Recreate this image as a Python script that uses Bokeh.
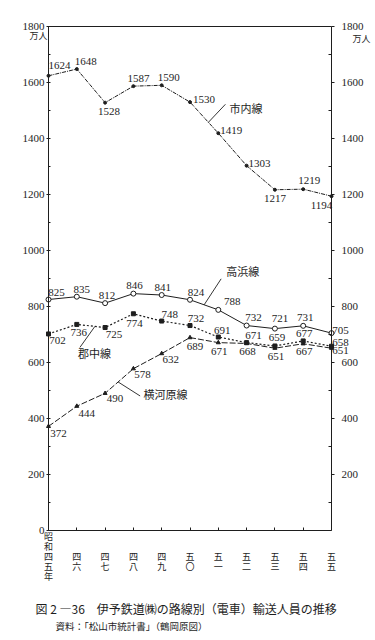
from bokeh.plotting import figure
from bokeh.models import Range1d, LinearAxis, FixedTicker, Label, LabelSet, ColumnDataSource
from bokeh.core.properties import value
from bokeh.embed import file_html
from bokeh.resources import INLINE

# ---------------- data ----------------
years = [45, 46, 47, 48, 49, 50, 51, 52, 53, 54, 55]
x_tick_labels = ["四五", "四六", "四七", "四八", "四九", "五〇", "五一", "五二", "五三", "五四", "五五"]
era_prefix = "昭和"
era_suffix = "年"
series_names = ["市内線", "高浜線", "郡中線", "横河原線"]
shinai = [1624, 1648, 1528, 1587, 1590, 1530, 1419, 1303, 1217, 1219, 1194]
takahama = [825, 835, 812, 846, 841, 824, 788, 732, 721, 731, 705]
gunchu = [702, 736, 725, 774, 748, 732, 691, 671, 659, 677, 658]
yokogawara = [372, 444, 490, 578, 632, 689, 671, 668, 651, 667, 651]
y_ticks = [0, 200, 400, 600, 800, 1000, 1200, 1400, 1600, 1800]
y_minor = [100, 300, 500, 700, 900, 1100, 1300, 1500, 1700]
unit = "万人"
caption = "図 2 ―36　伊予鉄道㈱の路線別（電車）輸送人員の推移"
source_note = "資料：「松山市統計書」（鶴岡原図）"

# ---------------- geometry / style ----------------
W, H = 374, 638
BL, BR, BT, BB = 48, 331, 26, 530          # chart box inside the canvas (px)
X0, X1 = years[0], years[-1]
Y0, Y1 = y_ticks[0], y_ticks[-1]
PX = (BR - BL) / (X1 - X0)
PY = (BB - BT) / (Y1 - Y0)
INK = "#1e1e1e"
NUM_FONT = "Liberation Serif"
CJK_FONT = "Noto Sans CJK JP"

def off(x, y, dx, dy):
    return x + dx / PX, y - dy / PY

p = figure(width=W, height=H,
           x_range=Range1d(X0 - BL / PX, X1 + (W - BR) / PX),
           y_range=Range1d(Y0 - (H - BB) / PY, Y1 + BT / PY),
           output_backend="svg", toolbar_location=None,
           min_border=0)
p.background_fill_color = "white"
p.border_fill_color = "white"
p.outline_line_color = None
p.xgrid.visible = False
p.ygrid.visible = False

# bottom axis
xa = p.xaxis[0]
xa.fixed_location = Y0
xa.bounds = (X0, X1)
xa.ticker = FixedTicker(ticks=years, minor_ticks=[])
xa.major_label_text_color = None
xa.major_tick_in = 3
xa.major_tick_out = 0
xa.axis_line_color = INK
xa.major_tick_line_color = INK

# top border axis (line only)
ta = LinearAxis(fixed_location=Y1, bounds=(X0, X1), ticker=FixedTicker(ticks=[], minor_ticks=[]),
                major_label_text_color=None, axis_line_color=INK, major_tick_line_color=None,
                minor_tick_line_color=None)
p.add_layout(ta, "above")

# left axis
ya = p.yaxis[0]
ya.fixed_location = X0
ya.bounds = (Y0, Y1)
ya.ticker = FixedTicker(ticks=y_ticks, minor_ticks=y_minor)
ya.major_tick_in = 2
ya.major_tick_out = 2
ya.minor_tick_in = 2
ya.minor_tick_out = 0
ya.major_label_standoff = 2
ya.major_label_text_font = NUM_FONT
ya.major_label_text_font_size = "11px"
ya.major_label_text_color = INK
ya.axis_line_color = INK
ya.major_tick_line_color = INK
ya.minor_tick_line_color = INK

# right axis
ra = LinearAxis(fixed_location=X1, bounds=(Y0, Y1),
                ticker=FixedTicker(ticks=y_ticks[1:], minor_ticks=y_minor))
ra.major_tick_in = 0
ra.major_tick_out = 3
ra.minor_tick_in = 3
ra.minor_tick_out = 0
ra.major_label_standoff = 7
ra.major_label_text_font = NUM_FONT
ra.major_label_text_font_size = "11px"
ra.major_label_text_color = INK
ra.axis_line_color = INK
ra.major_tick_line_color = INK
ra.minor_tick_line_color = INK
p.add_layout(ra, "right")

# ---------------- series ----------------
p.line(years, shinai, line_color=INK, line_width=1, line_dash="4 1 1 1")
p.scatter(years, shinai, marker="circle", size=3, fill_color=INK, line_color=INK)

p.line(years, takahama, line_color=INK, line_width=1)
p.scatter(years, takahama, marker="circle", size=5, fill_color="white", line_color=INK, line_width=1)

p.line(years, gunchu, line_color=INK, line_width=1.2, line_dash="2 2")
p.scatter(years, gunchu, marker="square", size=4, fill_color=INK, line_color=INK)

p.line(years, yokogawara, line_color=INK, line_width=1, line_dash="6 2")
p.scatter(years, yokogawara, marker="triangle", size=4, fill_color=INK, line_color=INK)

# ---------------- value labels ----------------
all_series = [shinai, takahama, gunchu, yokogawara]
label_offsets = [
    [(11, -10), (9, -8), (4, 9), (5, -8), (7, -8), (14, -3), (13, -3), (13, -2), (0, 9), (6, -9), (-10, 9)],
    [(8, -7), (5, -7), (2, -8), (1, -8), (1, -8), (6, -7), (14, -8), (7, -8), (5, -10), (2, -8), (9, -3)],
    [(9, 7), (2, 8), (9, 7), (1, 10), (8, -7), (6, -7), (4, -7), (7, -7), (2, -8), (1, -7), (9, -4)],
    [(10, 7), (10, 7), (10, 5), (9, 6), (9, 6), (5, 9), (1, 9), (1, 8), (1, 8), (1, 8), (9, 2)],
]
lx, ly, lt = [], [], []
for vals, offs in zip(all_series, label_offsets):
    for x, v, (dx, dy) in zip(years, vals, offs):
        a, b = off(x, v, dx, dy)
        lx.append(a); ly.append(b); lt.append(str(v))
p.add_layout(LabelSet(x="x", y="y", text="t", source=ColumnDataSource(dict(x=lx, y=ly, t=lt)),
                      text_align="center", text_baseline="middle",
                      text_font=value(NUM_FONT), text_font_size=value("11px"), text_color=INK))

# ---------------- series names with leader lines ----------------
leaders = [(5, 0.65, (17, -18), (20.5, 4)),
           (5, 0.50, (17, -26), (21.5, -8)),
           (1, 0.64, (-15, 21), (14.5, 6)),
           (2, 0.46, (22, 14), (25.5, -2))]
x0s, y0s, x1s, y1s, nx, ny = [], [], [], [], [], []
for vals, (i, t, (ex, ey), (tx, ty)) in zip(all_series, leaders):
    sx = years[i] + t * (years[i + 1] - years[i])
    sy = vals[i] + t * (vals[i + 1] - vals[i])
    ex_, ey_ = off(sx, sy, ex, ey)
    x0s.append(sx); y0s.append(sy); x1s.append(ex_); y1s.append(ey_)
    a, b = off(ex_, ey_, tx, ty)
    nx.append(a); ny.append(b)
p.segment(x0s, y0s, x1s, y1s, line_color=INK, line_width=0.9)
p.add_layout(LabelSet(x="x", y="y", text="t", source=ColumnDataSource(dict(x=nx, y=ny, t=series_names)),
                      text_align="center", text_baseline="middle",
                      text_font=value(CJK_FONT), text_font_size=value("11px"), text_color=INK))

# ---------------- unit labels ----------------
ux, uy = off(X0, Y1, -10, 9)
p.add_layout(Label(x=ux, y=uy, text=unit, text_align="center", text_baseline="middle",
                   text_font=CJK_FONT, text_font_size="9px", text_color=INK))
ux, uy = off(X1, Y1, 30, 12)
p.add_layout(Label(x=ux, y=uy, text=unit, text_align="center", text_baseline="middle",
                   text_font=CJK_FONT, text_font_size="9px", text_color=INK))

# ---------------- vertical category labels ----------------
cx, cy, ct = [], [], []
for k, (x, lab) in enumerate(zip(years, x_tick_labels)):
    chars = list(lab)
    rows = list(range(len(chars)))
    if k == 0:
        chars = list(era_prefix) + chars + list(era_suffix)
        rows = list(range(-len(era_prefix), len(lab) + len(era_suffix)))
    for ch, r in zip(chars, rows):
        a, b = off(x, Y0, 0, 26 + 10 * r)
        cx.append(a); cy.append(b); ct.append(ch)
p.add_layout(LabelSet(x="x", y="y", text="t", source=ColumnDataSource(dict(x=cx, y=cy, t=ct)),
                      text_align="center", text_baseline="middle",
                      text_font=value(CJK_FONT), text_font_size=value("9px"), text_color=INK))

# ---------------- caption ----------------
a, b = off(X0, Y0, -13, 78)
p.add_layout(Label(x=a, y=b, text=caption, text_align="left", text_baseline="middle",
                   text_font=CJK_FONT, text_font_size="12px", text_color=INK))
a, b = off(X0, Y0, 7, 95)
p.add_layout(Label(x=a, y=b, text=source_note, text_align="left", text_baseline="middle",
                   text_font=CJK_FONT, text_font_size="9.5px", text_color=INK))

open("out.html", "w").write(file_html(p, INLINE))
